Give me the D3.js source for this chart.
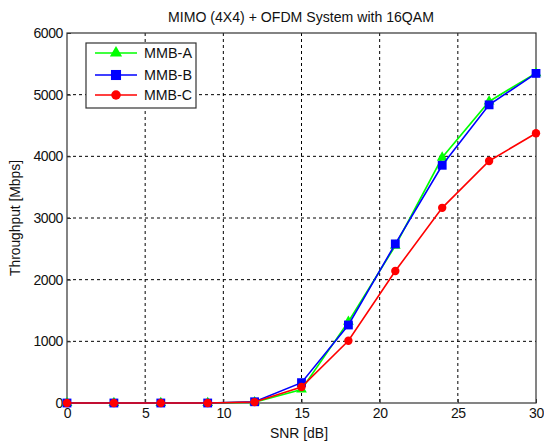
<!DOCTYPE html>
<html><head><meta charset="utf-8">
<script src="https://cdn.jsdelivr.net/npm/d3@7"></script>
<style>body{margin:0;background:#fff}svg{display:block}text{font-family:"Liberation Sans",Arial,sans-serif}</style>
</head><body><svg id="c" width="544" height="441"></svg>
<script>
const snr = [0,3,6,9,12,15,18,21,24,27,30];
const mmbA = [0,0,0,0,12,220,1320,2550,3980,4890,5350];
const mmbB = [0,0,0,0,20,330,1265,2580,3855,4835,5345];
const mmbC = [0,0,0,0,15,260,1010,2140,3165,3925,4375];
const xTicks = [0,5,10,15,20,25,30];
const yTicks = [0,1000,2000,3000,4000,5000,6000];
const seriesNames = ["MMB-A","MMB-B","MMB-C"];
const seriesColors = ["#00ff00","#0000ff","#ff0000"];
const seriesShapes = [d3.symbolTriangle, d3.symbolSquare, d3.symbolCircle];
const seriesSizes = [50, 78, 55];

const svg = d3.select("#c");
const L=67,R=536,T=33,B=403;
const x = d3.scaleLinear().domain([0,30]).range([L,R]);
const y = d3.scaleLinear().domain([0,6000]).range([B,T]);

// grid
const g = svg.append("g");
g.selectAll(".gx").data(xTicks.slice(1,-1)).join("line")
 .attr("x1",d=>x(d)).attr("x2",d=>x(d)).attr("y1",T).attr("y2",B)
 .attr("stroke","#000").attr("stroke-width",1).attr("stroke-dasharray","3,3");
g.selectAll(".gy").data(yTicks.slice(1,-1)).join("line")
 .attr("x1",L).attr("x2",R).attr("y1",d=>y(d)).attr("y2",d=>y(d))
 .attr("stroke","#000").attr("stroke-width",1).attr("stroke-dasharray","3,3");

// axes
const xAx = svg.append("g").attr("transform",`translate(0,${B})`)
 .call(d3.axisBottom(x).tickValues(xTicks).tickSize(-4).tickPadding(5).tickFormat(d3.format("d")));
const yAx = svg.append("g").attr("transform",`translate(${L},0)`)
 .call(d3.axisLeft(y).tickValues(yTicks).tickSize(-4).tickPadding(4).tickFormat(d3.format("d")));
[xAx,yAx].forEach(a=>{
  a.select(".domain").remove();
  a.selectAll(".tick line").attr("stroke","#333");
  a.selectAll("text").attr("font-size",14).attr("letter-spacing","-0.4px").attr("fill","#111")
   .style("font-family","'Liberation Sans',Arial,sans-serif");
});
svg.append("rect").attr("x",L).attr("y",T).attr("width",R-L).attr("height",B-T)
 .attr("fill","none").attr("stroke","#333").attr("stroke-width",1.2);

// series
const data = [mmbA,mmbB,mmbC];
const line = d3.line().x((d,i)=>x(snr[i])).y(d=>y(d));
data.forEach((vals,k)=>{
  svg.append("path").datum(vals).attr("d",line).attr("fill","none")
   .attr("stroke",seriesColors[k]).attr("stroke-width",1.6);
  svg.selectAll(".m"+k).data(vals).join("path")
   .attr("transform",(d,i)=>`translate(${x(snr[i])},${y(d)})`)
   .attr("d",d3.symbol().type(seriesShapes[k]).size(seriesSizes[k]))
   .attr("fill",seriesColors[k]);
});

// legend
const lg = svg.append("g");
lg.append("rect").attr("x",86).attr("y",43).attr("width",110).attr("height",65)
 .attr("fill","#fff").attr("stroke","#333").attr("stroke-width",1.2);
const ly = [53,75,95];
seriesNames.forEach((n,k)=>{
  lg.append("line").attr("x1",95).attr("x2",137).attr("y1",ly[k]).attr("y2",ly[k])
   .attr("stroke",seriesColors[k]).attr("stroke-width",1.6);
  lg.append("path").attr("transform",`translate(116,${ly[k]})`)
   .attr("d",d3.symbol().type(seriesShapes[k]).size(seriesSizes[k]*1.3)).attr("fill",seriesColors[k]);
  lg.append("text").attr("x",144).attr("y",ly[k]).attr("dy","0.36em").attr("font-size",14)
   .attr("textLength",48).attr("lengthAdjust","spacingAndGlyphs").attr("fill","#111").text(n);
});

// titles
svg.append("text").attr("x",301).attr("y",17).attr("dy","0.35em").attr("text-anchor","middle")
 .attr("font-size",14).attr("textLength",266).attr("lengthAdjust","spacingAndGlyphs").attr("fill","#111")
 .text("MIMO (4X4) + OFDM System with 16QAM");
svg.append("text").attr("x",299).attr("y",433).attr("dy","0.35em").attr("text-anchor","middle")
 .attr("font-size",14).attr("textLength",58).attr("lengthAdjust","spacingAndGlyphs").attr("fill","#111").text("SNR [dB]");
svg.append("text").attr("transform","translate(15,218) rotate(-90)").attr("dy","0.35em")
 .attr("text-anchor","middle").attr("font-size",14).attr("textLength",116).attr("lengthAdjust","spacingAndGlyphs").attr("fill","#111")
 .text("Throughput [Mbps]");
</script></body></html>
